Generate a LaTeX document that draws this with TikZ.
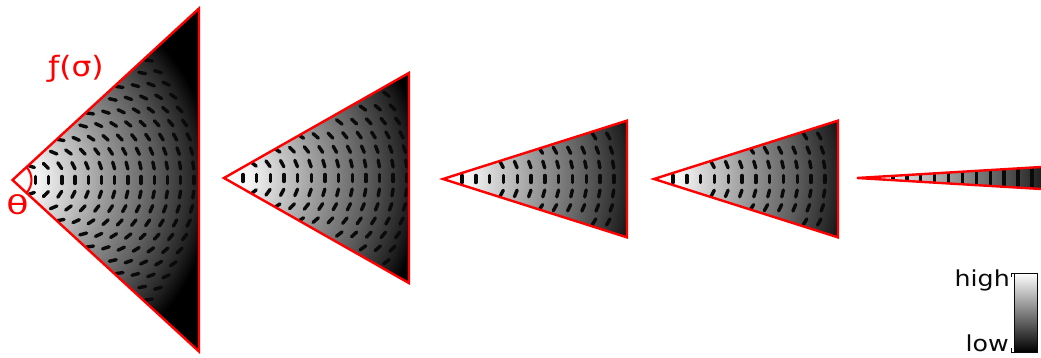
\documentclass[tikz,border=0pt]{standalone}
\usepackage{fontspec}
\setmainfont{DejaVu Sans}
\usetikzlibrary{calc}
\definecolor{wred}{RGB}{255,0,0}
\definecolor{ink}{RGB}{10,10,10}
% 25bp corresponds to a radius of 400pt (circle of radius 400): r pt -> r/16 bp
\pgfdeclareradialshading{wedgeshade}{\pgfpoint{0bp}{0bp}}{color(0bp)=(white); color(1.6bp)=(black!4); color(5.6bp)=(black!38); color(8.75bp)=(black!62); color(11.5bp)=(black!87); color(12.6bp)=(black); color(50bp)=(black)}
\tikzset{
  dashmark/.style={line width=3.4pt, line cap=round, ink},
  wedgeline/.style={draw=wred, line width=2.4pt},
  redlabel/.style={text=wred, inner sep=0pt},
  barlabel/.style={text=ink, inner sep=0pt, font=\fontsize{22}{24}\selectfont, xscale=1.15},
}
% #1 apex x, #2 apex y, #3 half angle, #4 length, #5 first radius, #6 radial step, #7 dash length
\newcommand{\wedgefig}[7]{%
  \begin{scope}
    \clip (#1,#2) -- ++({#4},{#4*tan(#3)}) -- ++(0,{-2*#4*tan(#3)}) -- cycle;
    \shade[shading=wedgeshade] (#1,#2) circle (400);
    \foreach \k in {0,...,15} {
      \pgfmathsetmacro\rr{#5+#6*\k}
      \pgfmathtruncatemacro\ok{\rr<(#4-1.5)}
      \ifnum\ok=1
        \pgfmathsetmacro\dphi{deg(14.5/\rr)}
        \pgfmathtruncatemacro\nmax{max(0,floor((#3-deg(1.5/\rr))/\dphi))}
        \pgfmathtruncatemacro\ntot{2*\nmax}
        \foreach \n in {0,...,\ntot} {
          \pgfmathsetmacro\ph{(\n-\nmax)*\dphi}
          \pgfmathsetmacro\px{#1+\rr*cos(\ph)}
          \pgfmathsetmacro\py{#2+\rr*sin(\ph)}
          \pgfmathsetmacro\bb{90+2*\ph}
          \draw[dashmark] ({\px-#7/2*cos(\bb)},{\py-#7/2*sin(\bb)}) -- ({\px+#7/2*cos(\bb)},{\py+#7/2*sin(\bb)});
        }
      \fi
    }
  \end{scope}
  \draw[wedgeline] (#1,#2) -- ++({#4},{#4*tan(#3)}) -- ++(0,{-2*#4*tan(#3)}) -- cycle;
}
\begin{document}
\begin{tikzpicture}[x=1pt,y=1pt]
  \useasboundingbox (0,0) rectangle (1041,358);
  \clip (0,0) rectangle (1041,358);
  \fill[white] (0,0) rectangle (1041,358);
  % wedges
  \wedgefig{12.5}{178}{42.6}{186.5}{23}{13.2}{7}
  \wedgefig{224}{180}{29.6}{185}{19}{13.65}{7}
  \wedgefig{443}{179}{17.6}{184}{19}{13.8}{7}
  \wedgefig{654}{179}{17.6}{184}{19}{13.8}{7}
  \wedgefig{857}{180}{3.42}{192}{22}{13.9}{40}
  % angle mark
  \coordinate (apex) at (12.5,178);
  \draw[wred, line width=2pt] ($(apex)+(-42.6:19)$) arc[start angle=-42.6, end angle=42.6, radius=19];
  \node[redlabel, font=\fontsize{26}{28}\selectfont, xscale=1.4] (theta) at (17.5,153) {θ};
  \node[redlabel, font=\fontsize{28}{30}\selectfont, xscale=1.12] (fsig) at (76,289) {ƒ(σ)};
  % colour bar
  \shade[top color=white, bottom color=black] (1014.5,6) rectangle (1037,85);
  \draw[ink, line width=0.8pt] (1014.5,6) rectangle (1037,85);
  \draw[ink, line width=0.6pt] (1011,81) -- (1011,85) -- (1037,85);
  \draw[ink, line width=0.6pt] (1011,10) -- (1011,6) -- (1037,6);
  \node[barlabel, anchor=base east] (high) at (1010,71.3) {high};
  \node[barlabel, anchor=base east] (low) at (1009,6.5) {low};
\end{tikzpicture}
\end{document}
